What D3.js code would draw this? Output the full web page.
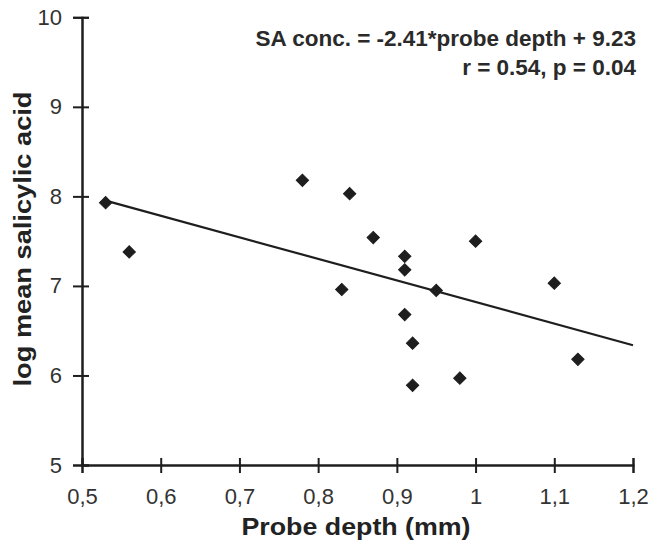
<!DOCTYPE html>
<html>
<head>
<meta charset="utf-8">
<script src="https://cdn.jsdelivr.net/npm/d3@7"></script>
<style>
    body{margin:0;background:#fff;}
    svg{display:block;}
    text{font-family:Arial,'Liberation Sans',sans-serif;}
</style>
</head>
<body>
<script>
// probe depth (mm) vs log mean salicylic acid
var depth=[0.53,0.56,0.78,0.84,0.87,0.83,0.91,0.91,0.91,0.92,0.92,0.95,0.98,1.00,1.10,1.13];
var logSA=[7.93,7.38,8.18,8.03,7.54,6.96,7.33,7.18,6.68,6.36,5.89,6.95,5.97,7.50,7.03,6.18];
var xTicks=[0.5,0.6,0.7,0.8,0.9,1.0,1.1,1.2];
var xTickLabels=['0,5','0,6','0,7','0,8','0,9','1','1,1','1,2'];
var yTicks=[5,6,7,8,9,10];
var yTickLabels=['5','6','7','8','9','10'];
var slope=-2.41, intercept=9.23;
var fitRange=[0.53,1.2];
var eqText=['SA conc. = -2.41*probe depth + 9.23','r = 0.54, p = 0.04'];

var width=655, height=547;
var px='px';
var ink='#1e1e1e';

var svg=d3.select('body').append('svg')
    .attr('width',width)
    .attr('height',height);

var x=d3.scaleLinear().domain([0.5,1.2]).range([82,633]);
var y=d3.scaleLinear().domain([5,10]).range([465,17.3]);

// ticks cross the axis line, so draw an outer and an inner set
var yAxisOut=d3.axisLeft(y).tickValues(yTicks).tickSize(9).tickPadding(11)
    .tickFormat(function(d,i){return yTickLabels[i];});
var yAxisIn=d3.axisLeft(y).tickValues(yTicks).tickSize(-7).tickFormat('');
var xAxisOut=d3.axisBottom(x).tickValues(xTicks).tickSize(8).tickPadding(15)
    .tickFormat(function(d,i){return xTickLabels[i];});
var xAxisIn=d3.axisBottom(x).tickValues(xTicks).tickSize(-7).tickFormat('');

function styleAxis(g){
    g.select('.domain').attr('stroke',ink).attr('stroke-width',2);
    g.selectAll('.tick line').attr('stroke',ink).attr('stroke-width',2);
    g.selectAll('.tick text')
        .attr('fill','#333')
        .style('font-size',22+px)
        .style('font-family','Arial, Liberation Sans, sans-serif');
}

svg.append('g').attr('transform','translate(82,0)').call(yAxisIn).call(styleAxis);
svg.append('g').attr('transform','translate(82,0)').call(yAxisOut).call(styleAxis);
svg.append('g').attr('transform','translate(0,465)').call(xAxisIn).call(styleAxis);
svg.append('g').attr('transform','translate(0,465)').call(xAxisOut).call(styleAxis);

// regression line
var fit=fitRange.map(function(d){return [d,slope*d+intercept];});
svg.append('path')
    .datum(fit)
    .attr('fill','none')
    .attr('stroke',ink)
    .attr('stroke-width',2.2)
    .attr('d',d3.line().x(function(d){return x(d[0]);}).y(function(d){return y(d[1]);}));

// diamond markers
var diamond=d3.symbol().type(d3.symbolSquare).size(76);
svg.selectAll('path.pt')
    .data(depth)
    .enter()
    .append('path')
    .attr('class','pt')
    .attr('d',diamond)
    .attr('fill',ink)
    .attr('stroke',ink)
    .attr('stroke-width',1)
    .attr('transform',function(d,i){return 'translate('+x(d)+','+y(logSA[i])+') rotate(45)';});

// equation
svg.selectAll('text.eq')
    .data(eqText)
    .enter()
    .append('text')
    .attr('class','eq')
    .attr('x',636)
    .attr('y',function(d,i){return 46+i*29;})
    .attr('text-anchor','end')
    .attr('fill','#2a2a2a')
    .style('font-size',22.5+px)
    .style('font-weight','bold')
    .text(function(d){return d;});

// axis titles
svg.append('text')
    .attr('x',356)
    .attr('y',535)
    .attr('text-anchor','middle')
    .attr('textLength',229)
    .attr('lengthAdjust','spacingAndGlyphs')
    .attr('fill','#222')
    .style('font-size',23+px)
    .style('font-weight','bold')
    .text('Probe depth (mm)');

svg.append('text')
    .attr('transform','translate(31,239) rotate(-90)')
    .attr('text-anchor','middle')
    .attr('textLength',295)
    .attr('lengthAdjust','spacingAndGlyphs')
    .attr('fill','#222')
    .style('font-size',24+px)
    .style('font-weight','bold')
    .text('log mean salicylic acid');
</script>
</body>
</html>
